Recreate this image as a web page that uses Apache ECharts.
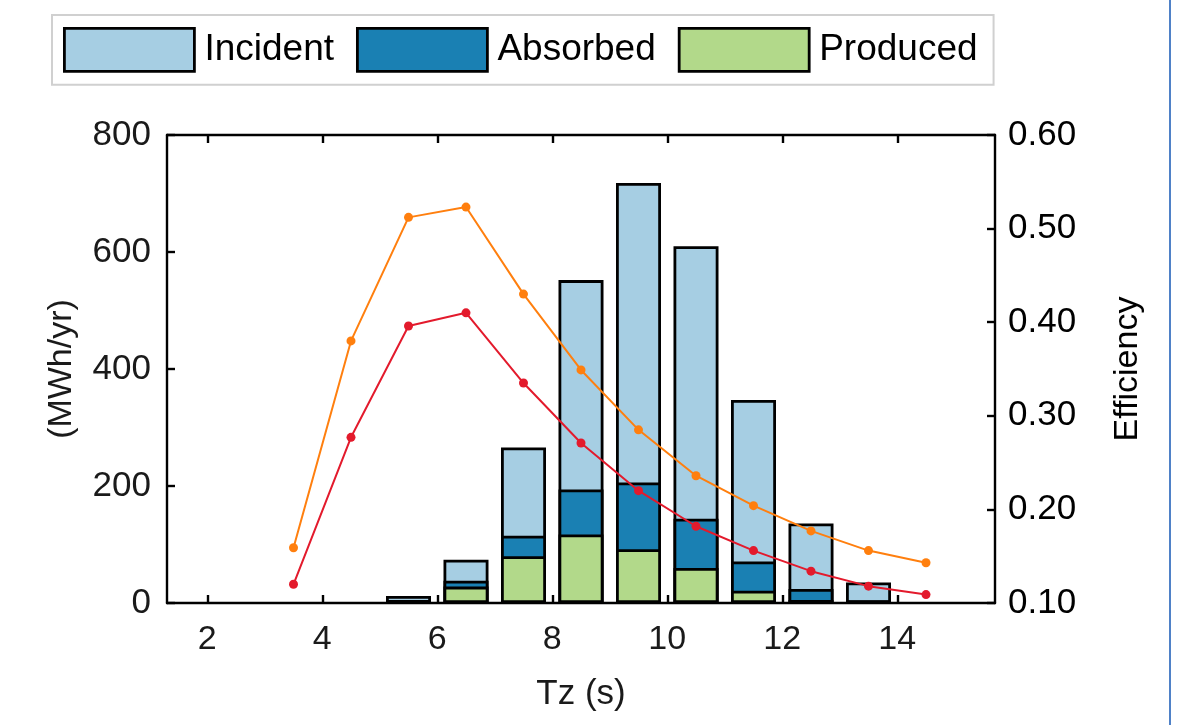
<!DOCTYPE html>
<html>
<head>
<meta charset="utf-8">
<script src="https://cdn.jsdelivr.net/npm/echarts@6/dist/echarts.min.js"></script>
<style>
html,body{margin:0;padding:0;background:#fff;}
#chart{width:1180px;height:725px;}
</style>
</head>
<body>
<div id="chart"></div>
<script>
// ---- data ----
const barTz = [5.5, 6.5, 7.5, 8.5, 9.5, 10.5, 11.5, 12.5, 13.5];
const incident = [12, 74, 266, 552, 718, 610, 347, 136, 35];
const absorbed = [5, 38, 115, 194, 206, 144, 71, 24, 4];
const produced = [2, 28, 80, 117, 92, 60, 21, 5, 1];

const lineTz = [3.5, 4.5, 5.5, 6.5, 7.5, 8.5, 9.5, 10.5, 11.5, 12.5, 13.5, 14.5];
const effOrange = [0.159, 0.380, 0.512, 0.523, 0.430, 0.349, 0.285, 0.236, 0.204, 0.177, 0.156, 0.143];
const effRed = [0.120, 0.277, 0.396, 0.410, 0.335, 0.271, 0.220, 0.182, 0.156, 0.134, 0.118, 0.109];

const xTicks = [2, 4, 6, 8, 10, 12, 14];
const seriesNames = ['Incident', 'Absorbed', 'Produced'];

// ---- build ----
const FONT = 'Liberation Sans, Arial, Helvetica, sans-serif';
const TXT = '#1a1a1a';
const pairs = (xs, ys) => xs.map((x, i) => [x, ys[i]]);

const chart = echarts.init(document.getElementById('chart'), null, {renderer: 'canvas'});
const barStyle = (c) => ({color: c, borderColor: '#000', borderWidth: 2.8});

chart.setOption({
  animation: false,
  backgroundColor: '#fff',
  textStyle: {fontFamily: FONT},
  grid: {left: 167, right: 185, top: 135, bottom: 122, containLabel: false},
  legend: {
    data: seriesNames,
    left: 52, top: 15,
    padding: [12, 16, 12, 11],
    itemWidth: 130, itemHeight: 43,
    itemGap: 22,
    icon: 'rect',
    borderColor: '#d0d0d0', borderWidth: 2,
    backgroundColor: '#fff',
    itemStyle: {borderColor: '#000', borderWidth: 2.8},
    textStyle: {fontSize: 37, color: '#000', fontFamily: FONT, padding: [0, 0, 0, 5]},
    selectedMode: false
  },
  xAxis: [{
    type: 'value', min: 1.3, max: 15.7,
    name: 'Tz (s)', nameLocation: 'middle', nameGap: 74,
    nameTextStyle: {fontSize: 35, color: TXT, fontFamily: FONT},
    axisLine: {show: true, onZero: false, lineStyle: {color: '#000', width: 2.4}},
    axisTick: {show: true, inside: true, length: 8, customValues: xTicks, lineStyle: {color: '#000', width: 2.4}},
    axisLabel: {customValues: xTicks, fontSize: 34, color: TXT, margin: 20, fontFamily: FONT},
    splitLine: {show: false}
  }, {
    type: 'value', min: 1.3, max: 15.7, position: 'top',
    axisLine: {show: true, onZero: false, lineStyle: {color: '#000', width: 2.4}},
    axisTick: {show: true, inside: true, length: 8, customValues: xTicks, lineStyle: {color: '#000', width: 2.4}},
    axisLabel: {show: false},
    splitLine: {show: false}
  }],
  yAxis: [{
    type: 'value', min: 0, max: 800, interval: 200, position: 'left',
    name: '(MWh/yr)', nameLocation: 'middle', nameGap: 88,
    nameTextStyle: {fontSize: 34, color: TXT, fontFamily: FONT},
    axisLine: {show: true, onZero: false, lineStyle: {color: '#000', width: 2.4}},
    axisTick: {show: true, inside: true, length: 8, lineStyle: {color: '#000', width: 2.4}},
    axisLabel: {fontSize: 35, color: TXT, margin: 16, fontFamily: FONT},
    splitLine: {show: false}
  }, {
    type: 'value', min: 0.1, max: 0.6, interval: 0.1, position: 'right',
    name: 'Efficiency', nameLocation: 'middle', nameGap: 116,
    nameTextStyle: {fontSize: 34, color: '#000', fontFamily: FONT},
    axisLine: {show: true, onZero: false, lineStyle: {color: '#000', width: 2.4}},
    axisTick: {show: true, inside: true, length: 8, lineStyle: {color: '#000', width: 2.4}},
    axisLabel: {fontSize: 35, color: '#000', margin: 13, fontFamily: FONT, formatter: v => v.toFixed(2)},
    splitLine: {show: false}
  }],
  series: [
    {name: 'Incident', type: 'bar', xAxisIndex: 0, yAxisIndex: 0, data: pairs(barTz, incident),
     barWidth: 45, barGap: '-100%', itemStyle: barStyle('#a6cee3')},
    {name: 'Absorbed', type: 'bar', xAxisIndex: 0, yAxisIndex: 0, data: pairs(barTz, absorbed),
     barWidth: 45, barGap: '-100%', itemStyle: barStyle('#1a80b3')},
    {name: 'Produced', type: 'bar', xAxisIndex: 0, yAxisIndex: 0, data: pairs(barTz, produced),
     barWidth: 45, barGap: '-100%', itemStyle: barStyle('#b2d98a')},
    {name: 'EffOrange', type: 'line', xAxisIndex: 0, yAxisIndex: 1, data: pairs(lineTz, effOrange),
     symbol: 'circle', symbolSize: 9, lineStyle: {color: '#ff7f0e', width: 2}, itemStyle: {color: '#ff7f0e'}, z: 5},
    {name: 'EffRed', type: 'line', xAxisIndex: 0, yAxisIndex: 1, data: pairs(lineTz, effRed),
     symbol: 'circle', symbolSize: 9, lineStyle: {color: '#e31a2c', width: 2}, itemStyle: {color: '#e31a2c'}, z: 5}
  ],
  graphic: [{
    type: 'rect', shape: {x: 1169, y: 0, width: 2, height: 725},
    style: {fill: '#4f81c7'}, silent: true
  }]
});
</script>
</body>
</html>
